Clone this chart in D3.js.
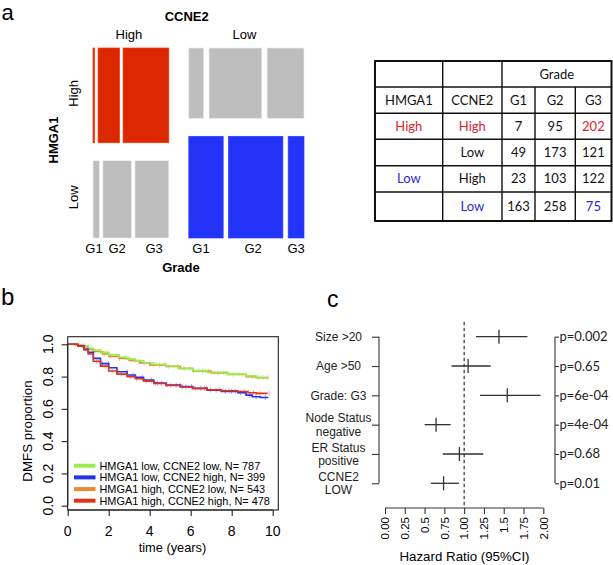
<!DOCTYPE html>
<html><head><meta charset="utf-8">
<script src="https://cdn.jsdelivr.net/npm/d3@7"></script>
<style>body{margin:0;background:#fff} svg{display:block}</style>
</head><body>
<svg id="fig" width="613" height="565"></svg>
<script>
// ---------- Panel a : data ----------
const grades = ["G1","G2","G3"];
const levels = ["High","Low"];
const tableHeader = ["HMGA1","CCNE2","G1","G2","G3"];
const rowHMGA1 = ["High","High","Low","Low"];
const tableHMGA1 = ["High","","Low",""];
const tableCCNE2 = ["High","Low","High","Low"];
const tableG1 = [7,49,23,163];
const tableG2 = [95,173,103,258];
const tableG3 = [202,121,122,75];

// ---------- Panel b : data (Kaplan-Meier) ----------
const kmGroups = ["HMGA1 low, CCNE2 low, N= 787","HMGA1 low, CCNE2 high, N= 399","HMGA1 high, CCNE2 low, N= 543","HMGA1 high, CCNE2 high, N= 478"];
const kmGreen = [[0,1],[0.3,0.998],[0.6,0.99],[1,0.975],[1.25,0.965],[1.6,0.95],[2,0.935],[2.5,0.92],[2.9,0.908],[3.3,0.897],[3.7,0.886],[4.2,0.876],[4.8,0.866],[5.4,0.851],[6.1,0.837],[6.8,0.826],[7.8,0.815],[8.7,0.804],[9.2,0.795],[9.75,0.785]];
const kmBlue = [[0,1],[0.5,0.99],[0.8,0.97],[1,0.95],[1.25,0.913],[1.6,0.88],[2,0.855],[2.4,0.83],[2.9,0.81],[3.3,0.795],[3.7,0.779],[4.2,0.76],[4.8,0.748],[5.5,0.738],[6.1,0.727],[6.8,0.715],[7.5,0.708],[8.3,0.7],[8.7,0.685],[9.0,0.675],[9.4,0.67],[9.75,0.665]];
const kmOrange = [[0,1],[0.4,0.995],[0.7,0.985],[1,0.968],[1.3,0.955],[1.7,0.94],[2,0.925],[2.5,0.912],[3,0.9],[3.5,0.885],[4,0.872],[4.8,0.862],[5.5,0.85],[6.1,0.835],[7,0.822],[7.8,0.813],[8.7,0.8],[9.2,0.793],[9.75,0.79]];
const kmRed = [[0,1],[0.5,0.988],[0.8,0.965],[1,0.94],[1.25,0.895],[1.6,0.865],[2,0.835],[2.4,0.815],[2.9,0.8],[3.3,0.787],[3.7,0.772],[4.2,0.757],[4.8,0.745],[5.5,0.735],[6.1,0.727],[6.8,0.718],[7.5,0.712],[8.3,0.708],[8.8,0.7],[9.2,0.696],[9.75,0.696]];
const censorTimes = [0.7,1.1,1.5,1.9,2.3,2.7,3.1,3.5,3.9,4.3,4.7,5.1,5.5,5.9,6.3,6.7,7.1,7.5,7.9,8.3,8.7,9.1,9.5];
const kmXTicks = [0,2,4,6,8,10];
const kmYTicks = [0,0.2,0.4,0.6,0.8,1.0];

// ---------- Panel c : data (forest plot) ----------
const hrLabels = [["Size >20"],["Age >50"],["Grade: G3"],["Node Status","negative"],["ER Status","positive"],["CCNE2","LOW"]];
const hrEst  = [1.44,1.05,1.545,0.645,0.94,0.74];
const hrLow  = [1.15,0.84,1.20,0.50,0.73,0.58];
const hrHigh = [1.80,1.335,1.965,0.83,1.24,0.935];
const pLabels = ["p=0.002","p=0.65","p=6e-04","p=4e-04","p=0.68","p=0.01"];
const hrTicks = [0,0.25,0.5,0.75,1,1.25,1.5,1.75,2];
const hrTickLabels = ["0.00","0.25","0.5","0.75","1.00","1.25","1.5","1.75","2.00"];

// ---------- styles ----------
const ARIAL = "'Liberation Sans', Arial, sans-serif";
const CAL = "Lato, 'Open Sans', sans-serif";
const RED = "#dc2800", BLUE = "#2334f8", GRAY = "#bebebe";
const TRED = "#e0202c", TBLUE = "#2a2ad8";
const kmColors = ["#98ee50","#2233ee","#ec8a32","#e03418"];

const svg = d3.select("#fig");

// panel letters
svg.append("text").attr("x",1.5).attr("y",19.5).attr("font-family",ARIAL).attr("font-size",22).text("a");
svg.append("text").attr("x",1).attr("y",305).attr("font-family",ARIAL).attr("font-size",24).text("b");
svg.append("text").attr("x",327).attr("y",307).attr("font-family",ARIAL).attr("font-size",23).text("c");

// ================= Panel a : mosaic =================
(function(){
  const g = svg.append("g");
  const mx0=93, mx1=304, my0=48, my1=238, colGap=20, rowGap=18, gradeGapFrac=0.046;
  const cells = tableG1.map((_,i)=>({h:rowHMGA1[i], c:tableCCNE2[i], v:[tableG1[i],tableG2[i],tableG3[i]]}));
  const colTot = levels.map(c=>d3.sum(cells.filter(d=>d.c===c), d=>d3.sum(d.v)));
  const colW = d3.scaleLinear().domain([0,d3.sum(colTot)]).range([0,(mx1-mx0)-colGap]);
  let cx = mx0;
  levels.forEach((c,ci)=>{
    const W = colW(colTot[ci]);
    const colCells = levels.map(h=>cells.find(d=>d.c===c && d.h===h));
    const rowTot = colCells.map(d=>d3.sum(d.v));
    const rowH = d3.scaleLinear().domain([0,d3.sum(rowTot)]).range([0,(my1-my0)-rowGap]);
    let cy = my0;
    colCells.forEach((cell,ri)=>{
      const H = rowH(rowTot[ri]);
      const gap = gradeGapFrac*W;
      const gw = d3.scaleLinear().domain([0,rowTot[ri]]).range([0,W-2*gap]);
      let gx = cx;
      const fill = (cell.h==="High"&&cell.c==="High")?RED:(cell.h==="Low"&&cell.c==="Low")?BLUE:GRAY;
      cell.v.forEach((v,gi)=>{
        const w = gw(v);
        g.append("rect").attr("x",gx).attr("y",cy).attr("width",Math.max(w,0.8)).attr("height",H)
          .attr("fill",fill).attr("stroke",d3.color(fill).brighter(0.6)).attr("stroke-width",0.7);
        if(ri===1){
          const lx = gx + w/2 + (ci===0 ? (gi-1)*2.2 : (gi===0?-5:gi===1?-2.5:0));
          g.append("text").attr("x",lx).attr("y",253.3).attr("text-anchor","middle")
            .attr("font-family",ARIAL).attr("font-size",13).text(grades[gi]);
        }
        gx += w+gap;
      });
      if(ci===0){
        g.append("text").attr("transform",`translate(78,${cy+H/2-2}) rotate(-90)`).attr("text-anchor","middle")
          .attr("font-family",ARIAL).attr("font-size",13).text(cell.h);
      }
      cy += H+rowGap;
    });
    g.append("text").attr("x",cx+W/2-2).attr("y",38.5).attr("text-anchor","middle")
      .attr("font-family",ARIAL).attr("font-size",13).text(c);
    cx += W+colGap;
  });
  g.append("text").attr("x",186.7).attr("y",20.7).attr("text-anchor","middle").attr("font-family",ARIAL)
    .attr("font-weight","bold").attr("font-size",13).text("CCNE2");
  g.append("text").attr("transform","translate(58.3,140) rotate(-90)").attr("text-anchor","middle").attr("font-family",ARIAL)
    .attr("font-weight","bold").attr("font-size",13).text("HMGA1");
  g.append("text").attr("x",181).attr("y",271.7).attr("text-anchor","middle").attr("font-family",ARIAL)
    .attr("font-weight","bold").attr("font-size",13).text("Grade");
})();

// ================= Panel a : table =================
(function(){
  const g = svg.append("g");
  const colsX = [375,442.7,502,535,575.3,611.5];
  const rowsY = [61,87,113.3,139.3,165.7,192,221];
  const cxm = i=>(colsX[i]+colsX[i+1])/2, cym = i=>(rowsY[i]+rowsY[i+1])/2;
  const ln = (x1,y1,x2,y2,w)=>g.append("line").attr("x1",x1).attr("y1",y1).attr("x2",x2).attr("y2",y2)
      .attr("stroke","#111").attr("stroke-width",w);
  rowsY.forEach((y,i)=>ln(colsX[0]-0.8,y,colsX[5]+0.8,y,(i===0||i===rowsY.length-1)?2:1.4));
  colsX.forEach((x,i)=>{
    const w = (i===0||i===5)?2:1.4;
    if(i===3||i===4) ln(x,rowsY[1],x,rowsY[6],w); else ln(x,rowsY[0],x,rowsY[6],w);
  });
  const txt = (x,y,s,col)=>g.append("text").attr("x",x).attr("y",y+4.6).attr("text-anchor","middle")
      .attr("font-family",CAL).attr("font-size",13).attr("fill",col||"#111").text(s);
  txt((colsX[2]+colsX[5])/2, cym(0), "Grade");
  tableHeader.forEach((h,i)=>txt(cxm(i), cym(1), h));
  const gvals = [tableG1,tableG2,tableG3];
  tableCCNE2.forEach((c,r)=>{
    const y = cym(r+2);
    const hcol = tableHMGA1[r]==="High"?TRED:tableHMGA1[r]==="Low"?TBLUE:null;
    txt(cxm(0), y, tableHMGA1[r], hcol);
    const ccol = (r===0)?TRED:(r===3)?TBLUE:null;
    txt(cxm(1), y, c, ccol);
    gvals.forEach((arr,gi)=>{
      const col = (gi===2 && r===0)?TRED:(gi===2 && r===3)?TBLUE:null;
      txt(cxm(gi+2), y, String(arr[r]), col);
    });
  });
})();

// ================= Panel b : KM =================
(function(){
  const g = svg.append("g");
  const x = d3.scaleLinear().domain([0,10]).range([67.7,272.7]);
  const y = d3.scaleLinear().domain([0,1]).range([505.7,344.3]);
  const box = {l:67.7,t:336.7,r:278.3,b:510};
  const line = d3.line().x(d=>x(d[0])).y(d=>y(d[1])).curve(d3.curveStepAfter);
  const series = [kmGreen,kmBlue,kmOrange,kmRed];
  series.forEach((s,i)=>{
    const stepVal = t=>{let v=1; s.forEach(p=>{if(p[0]<=t) v=p[1];}); return v;};
    censorTimes.forEach((t,k)=>{
      const tt = t + i*0.09 + (k%3)*0.05;
      g.append("line").attr("x1",x(tt)).attr("x2",x(tt)).attr("y1",y(stepVal(tt))-2.5).attr("y2",y(stepVal(tt))+2.5)
        .attr("stroke",kmColors[i]).attr("stroke-opacity",0.45).attr("stroke-width",1);
    });
  });
  [2,0,1,3].forEach(i=>{
    g.append("path").attr("d",line(series[i])).attr("fill","none").attr("stroke",kmColors[i]).attr("stroke-width",1.6);
  });
  g.append("rect").attr("x",box.l).attr("y",box.t).attr("width",box.r-box.l).attr("height",box.b-box.t)
    .attr("fill","none").attr("stroke","#222").attr("stroke-width",1.1);
  const ya = g.append("g").attr("transform",`translate(${box.l},0)`)
    .call(d3.axisLeft(y).tickValues(kmYTicks).tickSize(6).tickFormat(""));
  ya.select(".domain").attr("d",`M0,${y(0)}V${y(1)}`);
  const xa = g.append("g").attr("transform",`translate(0,${box.b})`)
    .call(d3.axisBottom(x).tickValues(kmXTicks).tickSize(6).tickFormat(""));
  xa.select(".domain").attr("d",`M${x(0)},0H${x(10)}`);
  [ya,xa].forEach(a=>{a.selectAll("line,path").attr("stroke","#222").attr("stroke-width",1.1);});
  kmYTicks.forEach(v=>{
    g.append("text").attr("transform",`translate(53,${y(v)}) rotate(-90)`).attr("text-anchor","middle")
      .attr("font-family",ARIAL).attr("font-size",14).text(d3.format(".1f")(v));
  });
  kmXTicks.forEach(v=>{
    g.append("text").attr("x",x(v)).attr("y",535.5).attr("text-anchor","middle")
      .attr("font-family",ARIAL).attr("font-size",14).text(v);
  });
  g.append("text").attr("x",172.5).attr("y",551.5).attr("text-anchor","middle").attr("font-family",ARIAL)
    .attr("font-size",12.8).text("time (years)");
  g.append("text").attr("transform","translate(31.5,431) rotate(-90)").attr("text-anchor","middle").attr("font-family",ARIAL)
    .attr("font-size",13.3).text("DMFS proportion");
  kmGroups.forEach((lab,i)=>{
    const ly = 465.7 + i*11.67;
    g.append("line").attr("x1",74).attr("x2",95.5).attr("y1",ly).attr("y2",ly)
      .attr("stroke",kmColors[i]).attr("stroke-width",4);
    g.append("text").attr("x",99.5).attr("y",ly+4).attr("font-family",ARIAL).attr("font-size",10.9).text(lab);
  });
})();

// ================= Panel c : forest =================
(function(){
  const g = svg.append("g");
  const x = d3.scaleLinear().domain([0,2]).range([385,543.3]);
  const y = d3.scaleLinear().domain([0,hrLabels.length-1]).range([336.7,483.3]);
  const axY = 508;
  const stroke="#333";
  g.append("line").attr("x1",x(1)).attr("x2",x(1)).attr("y1",321.7).attr("y2",axY)
    .attr("stroke","#222").attr("stroke-width",1.1).attr("stroke-dasharray","3.5,2.5");
  const la = g.append("g").attr("transform","translate(379,0)")
    .call(d3.axisLeft(y).tickValues(d3.range(hrLabels.length)).tickSize(7).tickFormat(""));
  la.select(".domain").attr("d",`M0,${y(0)}V${y(hrLabels.length-1)}`);
  const ra = g.append("g").attr("transform","translate(555,0)")
    .call(d3.axisRight(y).tickValues(d3.range(hrLabels.length)).tickSize(4).tickFormat(""));
  ra.select(".domain").attr("d",`M0,${y(0)}V${y(hrLabels.length-1)}`);
  const ba = g.append("g").attr("transform",`translate(0,${axY})`)
    .call(d3.axisBottom(x).tickValues(hrTicks).tickSize(6).tickFormat(""));
  ba.select(".domain").attr("d",`M${x(0)},0H${x(2)}`);
  [la,ra,ba].forEach(a=>a.selectAll("line,path").attr("stroke",stroke).attr("stroke-width",1.1));
  hrTicks.forEach((v,i)=>{
    g.append("text").attr("transform",`translate(${x(v)+4.3},${axY+9}) rotate(-90)`).attr("text-anchor","end")
      .attr("font-family",ARIAL).attr("font-size",11.5).text(hrTickLabels[i]);
  });
  g.append("text").attr("x",464.5).attr("y",561).attr("text-anchor","middle").attr("font-family",ARIAL)
    .attr("font-size",13.3).text("Hazard Ratio (95%CI)");
  hrEst.forEach((e,i)=>{
    g.append("line").attr("x1",x(hrLow[i])).attr("x2",x(hrHigh[i])).attr("y1",y(i)).attr("y2",y(i))
      .attr("stroke",stroke).attr("stroke-width",1.3);
    g.append("line").attr("x1",x(e)).attr("x2",x(e)).attr("y1",y(i)-7).attr("y2",y(i)+7)
      .attr("stroke",stroke).attr("stroke-width",1.3);
  });
  const lh = 13.5;
  hrLabels.forEach((lines,i)=>{
    const n = lines.length;
    const t = g.append("text").attr("text-anchor","middle")
      .attr("font-family",ARIAL).attr("font-size",12).attr("fill","#222");
    lines.forEach((s,k)=>{
      t.append("tspan").attr("x",338.5).attr("y",y(i)+4.3+(k-(n-1)/2)*lh).text(s);
    });
    g.append("text").attr("x",559.5).attr("y",y(i)+4.5).attr("font-family",CAL).attr("font-size",13)
      .attr("fill","#222").text(pLabels[i]);
  });
})();
</script>
</body></html>
